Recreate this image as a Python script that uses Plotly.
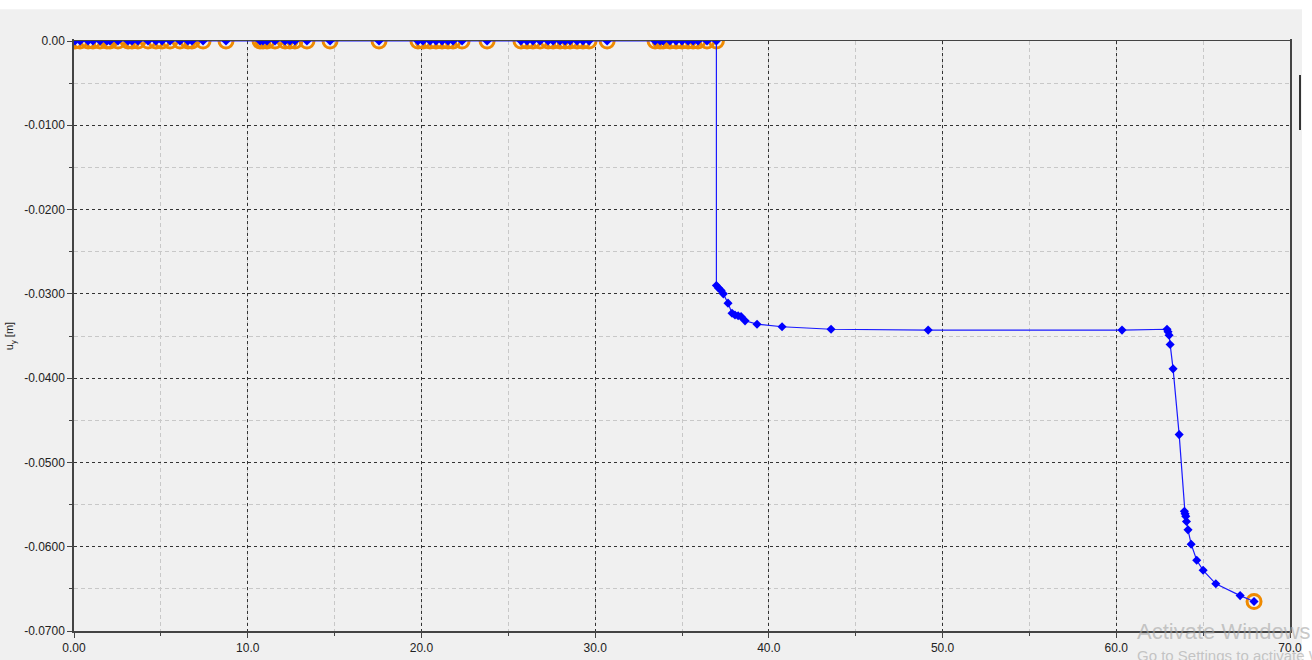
import plotly.graph_objects as go

# Step positions (x) and vertical displacement u_y [m]
x_vals = [0.06, 0.35, 0.81, 1.09, 1.50, 1.90, 2.07, 2.53, 3.11, 3.34, 3.68, 4.26, 4.72, 5.07,
          5.53, 6.10, 6.56, 6.79, 7.43, 8.75, 10.71, 10.88, 11.11, 11.57, 12.15, 12.43, 12.72,
          13.41, 14.74, 17.56, 19.80, 20.09, 20.50, 20.84, 21.19, 21.53, 21.82, 22.34, 23.78,
          25.73, 26.08, 26.42, 26.83, 27.29, 27.58, 27.98, 28.27, 28.56, 28.96, 29.30, 29.65,
          30.69, 33.45, 33.74, 33.91, 34.31, 34.66, 35.00, 35.35, 35.64, 35.92, 36.44, 36.98,
          36.98, 37.10, 37.25, 37.38, 37.65, 37.88, 38.05, 38.23, 38.40, 38.63, 39.32, 40.76,
          43.58, 49.17, 60.33, 62.92, 62.98, 63.04, 63.10, 63.27, 63.62, 63.92, 63.96, 64.00,
          64.04, 64.13, 64.31, 64.63, 65.00, 65.73, 67.13, 67.93]
n_flat = 63
uy_vals = [0.0] * n_flat + [
    -0.0290, -0.0293, -0.0296, -0.0300, -0.0311, -0.0323, -0.0325, -0.0326, -0.0327, -0.0332,
    -0.0336, -0.0339, -0.0342, -0.0343, -0.0343, -0.0342, -0.0345, -0.0349, -0.0360, -0.0389,
    -0.0467, -0.0558, -0.0561, -0.0564, -0.0570, -0.0580, -0.0597, -0.0616, -0.0628, -0.0644,
    -0.0658, -0.0665]
# points highlighted with orange rings
flag_x = x_vals[:n_flat] + [x_vals[-1]]
flag_y = uy_vals[:n_flat] + [uy_vals[-1]]

y_tickvals = [0, -0.01, -0.02, -0.03, -0.04, -0.05, -0.06, -0.07]
y_ticktext = ["0.00", "-0.0100", "-0.0200", "-0.0300", "-0.0400", "-0.0500", "-0.0600", "-0.0700"]
x_tickvals = [0, 10, 20, 30, 40, 50, 60, 70]
x_ticktext = ["0.00", "10.0", "20.0", "30.0", "40.0", "50.0", "60.0", "70.0"]

fig = go.Figure()
fig.add_trace(go.Scatter(
    x=flag_x, y=flag_y, mode="markers", cliponaxis=True,
    marker=dict(symbol="circle-open", size=14, color="#ef8a00", line=dict(width=3, color="#ef8a00")),
    hoverinfo="skip", showlegend=False))
fig.add_trace(go.Scatter(
    x=x_vals, y=uy_vals, mode="lines+markers", cliponaxis=True,
    line=dict(color="#1a1aff", width=1.2),
    marker=dict(symbol="diamond", size=7, color="#0000ff"),
    showlegend=False))

font = dict(family="Liberation Sans, Arial, sans-serif", size=12, color="#222222")
wm_color = "rgba(165,165,165,0.6)"

fig.update_layout(
    width=1312, height=660,
    margin=dict(l=74, r=22, t=41, b=29, autoexpand=False),
    paper_bgcolor="white", plot_bgcolor="#f0f0f0",
    font=font,
    shapes=[
        dict(type="rect", xref="paper", yref="paper", x0=-0.0609, x1=1.0099,
             y0=-0.06, y1=1.054, fillcolor="#f0f0f0", line=dict(width=0), layer="below"),
        # hide the upper halves of the rings that sit on the top edge
        dict(type="rect", xref="paper", yref="paper", x0=0.0, x1=1.0,
             y0=1 + 1.0 / 590, y1=1 + 12.0 / 590, fillcolor="#f0f0f0", line=dict(width=0),
             layer="above"),
        # small dark bar at the right edge of the window
        dict(type="line", xref="paper", yref="paper", x0=(1300 - 74) / 1216, x1=(1300 - 74) / 1216,
             y0=(631 - 75) / 590, y1=(631 - 130) / 590, line=dict(color="#333333", width=2)),
    ],
    annotations=[
        dict(text="Activate Windows", xref="paper", yref="paper", x=(1135 - 74) / 1216,
             y=(631 - 631) / 590, xanchor="left", yanchor="middle", showarrow=False,
             font=dict(family="Liberation Sans, Arial", size=22, color=wm_color)),
        dict(text="Go to Settings to activate Windows.", xref="paper", yref="paper",
             x=(1135 - 74) / 1216, y=(631 - 655) / 590, xanchor="left", yanchor="middle",
             showarrow=False,
             font=dict(family="Liberation Sans, Arial", size=15, color=wm_color)),
    ],
)
fig.update_xaxes(
    range=[0, 70], tickvals=x_tickvals, ticktext=x_ticktext, automargin=False,
    showline=True, linecolor="#444444", linewidth=1.5, mirror=True,
    ticks="outside", ticklen=5, tickcolor="#444444",
    showgrid=True, gridcolor="#333333", griddash="3px,3px", gridwidth=1,
    zeroline=False,
    minor=dict(dtick=5, showgrid=True, gridcolor="#c8c8c8", griddash="4px,3px",
               ticks="outside", ticklen=3, tickcolor="#444444"),
)
fig.update_yaxes(
    range=[-0.07, 0], tickvals=y_tickvals, ticktext=y_ticktext, automargin=False,
    showline=True, linecolor="#444444", linewidth=1.5, mirror=True,
    ticks="outside", ticklen=5, tickcolor="#444444",
    showgrid=True, gridcolor="#333333", griddash="3px,3px", gridwidth=1,
    zeroline=False,
    minor=dict(tickvals=[-0.005, -0.015, -0.025, -0.035, -0.045, -0.055, -0.065],
               showgrid=True, gridcolor="#c8c8c8", griddash="4px,3px",
               ticks="outside", ticklen=3, tickcolor="#444444"),
    title=dict(text="u<sub>y</sub> [m]", font=dict(size=11, color="#222222"), standoff=8),
)

fig.write_html("out.html")
